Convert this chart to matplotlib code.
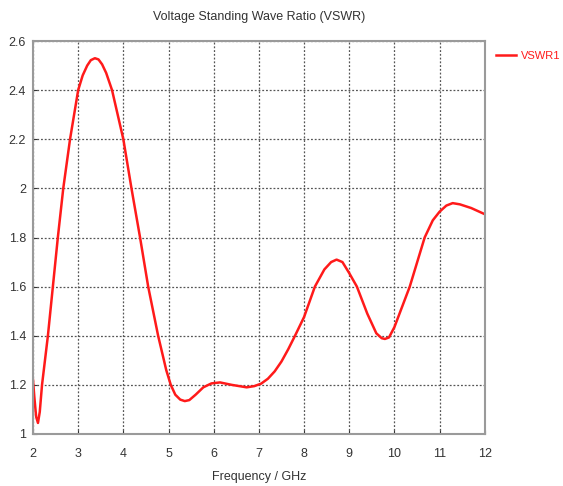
import numpy as np
import matplotlib.pyplot as plt

plt.rcParams['font.family'] = ['Liberation Sans', 'DejaVu Sans']

# VSWR curve
freq = [2.0, 2.03, 2.07, 2.11, 2.15, 2.2, 2.33, 2.44, 2.55, 2.67, 2.82, 3.0, 3.1, 3.2,
        3.28, 3.37, 3.45, 3.53, 3.62, 3.75, 4.0, 4.18, 4.37, 4.55, 4.77, 4.95, 5.05,
        5.15, 5.26, 5.36, 5.46, 5.6, 5.77, 5.95, 6.14, 6.4, 6.73, 6.9, 7.05, 7.2, 7.35,
        7.5, 7.65, 7.8, 8.0, 8.24, 8.45, 8.6, 8.72, 8.85, 9.0, 9.17, 9.4, 9.6, 9.72,
        9.79, 9.88, 10.0, 10.34, 10.67, 10.85, 11.0, 11.15, 11.29, 11.45, 11.7, 12.0]
vswr = [1.22, 1.15, 1.07, 1.045, 1.09, 1.20, 1.40, 1.60, 1.80, 2.00, 2.20, 2.40, 2.46,
        2.50, 2.522, 2.53, 2.525, 2.505, 2.47, 2.40, 2.20, 2.00, 1.80, 1.60, 1.40, 1.26,
        1.20, 1.16, 1.14, 1.134, 1.138, 1.16, 1.19, 1.206, 1.21, 1.20, 1.19, 1.195,
        1.205, 1.225, 1.255, 1.295, 1.345, 1.40, 1.476, 1.60, 1.67, 1.70, 1.71, 1.70,
        1.655, 1.60, 1.49, 1.41, 1.39, 1.387, 1.393, 1.435, 1.60, 1.80, 1.87, 1.905,
        1.93, 1.94, 1.935, 1.92, 1.895]

xticks = list(range(2, 13))
yticks = [1, 1.2, 1.4, 1.6, 1.8, 2, 2.2, 2.4, 2.6]
ytick_labels = ['1', '1.2', '1.4', '1.6', '1.8', '2', '2.2', '2.4', '2.6']

fig = plt.figure(figsize=(5.63, 4.86), dpi=100)
ax = fig.add_axes([0.0586, 0.107, 0.8024, 0.8086])

ax.plot(freq, vswr, color='#ff1a1a', lw=1.8, label='VSWR1')

ax.set_xlim(2, 12)
ax.set_ylim(1, 2.6)
ax.set_xticks(xticks)
ax.set_yticks(yticks)
ax.set_yticklabels(ytick_labels)
ax.tick_params(labelsize=9, colors='#333333', length=3, direction='in')
ax.tick_params(axis='x', pad=10)
ax.tick_params(axis='y', pad=5)
ax.grid(True, linestyle=(0, (1.5, 1.5)), color='#555555', lw=0.9)
for s in ax.spines.values():
    s.set_color('#9a9a9a')
    s.set_linewidth(1.5)

ax.set_title('Voltage Standing Wave Ratio (VSWR)', fontsize=9, color='#333333', pad=15)
ax.set_xlabel('Frequency / GHz', fontsize=9, color='#333333', labelpad=8)

leg = ax.legend(loc='upper left', bbox_to_anchor=(1.025, 0.975), frameon=False,
                fontsize=8, handlelength=1.8, handletextpad=0.4, borderaxespad=0,
                borderpad=0)
for t in leg.get_texts():
    t.set_color('#ff1a1a')

fig.savefig('out.png', dpi=100)
